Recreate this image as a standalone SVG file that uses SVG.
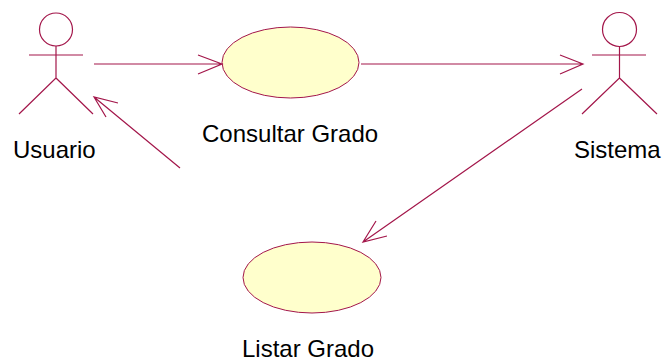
<svg xmlns="http://www.w3.org/2000/svg" width="667" height="362" viewBox="0 0 667 362">
<style>
.ln{stroke:#A3164A;stroke-width:1.2;fill:none}
.uc{fill:#FFFFCC;stroke:#A3164A;stroke-width:1}
.lbl{font-family:"Liberation Sans",Arial,sans-serif;font-size:24px;fill:#000}
</style>
<rect width="667" height="362" fill="#fff"/>
<g id="usuario">
<circle class="ln" cx="56" cy="29.5" r="16.5"/>
<path class="ln" d="M29 55H83M56 46V78L19 114M56 78L93 114"/>
<text class="lbl" x="13" y="158">Usuario</text>
</g>
<g id="sistema">
<circle class="ln" cx="619.5" cy="29.5" r="17"/>
<path class="ln" d="M592 55H646M619.5 46.5V78L582 114M619.5 78L657 114"/>
<text class="lbl" x="574" y="158">Sistema</text>
</g>
<g id="consultar">
<ellipse class="uc" cx="290.5" cy="62.5" rx="68.5" ry="35.5"/>
<text class="lbl" x="202" y="142">Consultar Grado</text>
</g>
<g id="listar">
<ellipse class="uc" cx="312" cy="277.5" rx="69" ry="35.5"/>
<text class="lbl" x="242" y="357">Listar Grado</text>
</g>
<g id="connectors">
<path class="ln" d="M94 64H222M198 55L222 64L198 74"/>
<path class="ln" d="M361 64H583M560 55L583 64L560 74"/>
<path class="ln" d="M582 89L363 242M376 221L363 242L387 236"/>
<path class="ln" d="M180 168L94 97M118 103L94 97L106 117"/>
</g>
</svg>
